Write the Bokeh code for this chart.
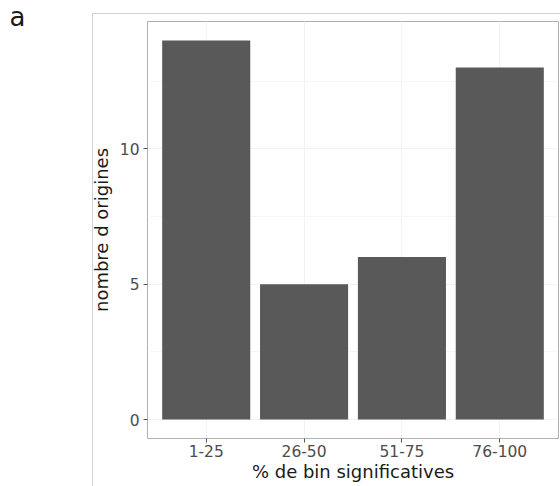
from bokeh.plotting import figure
from bokeh.models import FactorRange, Range1d, FixedTicker, Title, InlineStyleSheet
from bokeh.embed import file_html
from bokeh.resources import INLINE

categories = ["1-25", "26-50", "51-75", "76-100"]
counts = [14, 5, 6, 13]
y_ticks = [0, 5, 10]
y_minor = [2.5, 7.5, 12.5]

FONT = "DejaVu Sans"
W, H = 560, 486

frame_css = InlineStyleSheet(css="""
:host::after {
  content: '';
  position: absolute;
  left: 92px; top: 13px; right: 0px; bottom: 0px;
  border-top: 1px solid #d0d0d0;
  border-left: 1px solid #d0d0d0;
  pointer-events: none;
}
""")

p = figure(width=W, height=H, output_backend="svg", toolbar_location=None,
           x_range=FactorRange(factors=categories, range_padding=0.05),
           y_range=Range1d(-0.7, 14.7),
           min_border_left=147, min_border_right=2, min_border_top=21, min_border_bottom=48,
           stylesheets=[frame_css])

p.vbar(x=categories, top=counts, width=0.9, fill_color="#595959", line_color=None)

p.background_fill_color = "white"
p.border_fill_color = "white"
p.outline_line_color = "#b0b0b0"
p.outline_line_width = 1

p.xgrid.grid_line_color = "#f2f2f2"
p.ygrid.grid_line_color = "#f2f2f2"
p.ygrid.minor_grid_line_color = "#f7f7f7"
p.yaxis.ticker = FixedTicker(ticks=y_ticks, minor_ticks=y_minor)

for ax in (p.xaxis, p.yaxis):
    ax.axis_line_color = None
    ax.major_tick_line_color = "#555555"
    ax.major_tick_out = 4
    ax.major_tick_in = 0
    ax.minor_tick_line_color = None
    ax.major_label_text_font = FONT
    ax.major_label_text_font_size = "15.5px"
    ax.major_label_text_color = "#4d4d4d"
    ax.axis_label_text_font = FONT
    ax.axis_label_text_font_size = "18px"
    ax.axis_label_text_font_style = "normal"
    ax.axis_label_text_color = "#1a1a1a"

p.xaxis.axis_label = "% de bin significatives"
p.yaxis.axis_label = "nombre d origines"
p.yaxis.major_label_standoff = 4
p.xaxis.major_label_standoff = 2
p.yaxis.axis_label_standoff = 5
p.xaxis.axis_label_standoff = 1

p.title = Title(text="a", align="left", offset=-138, text_font=FONT,
                text_font_size="26px", text_font_style="normal",
                text_color="#1a1a1a",
                vertical_align="bottom", standoff=-20)

open("out.html", "w").write(file_html(p, INLINE))
